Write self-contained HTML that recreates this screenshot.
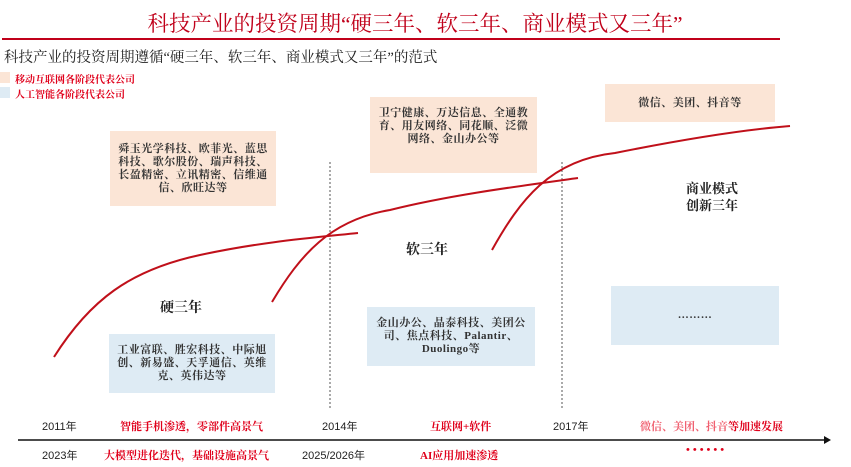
<!DOCTYPE html>
<html><head><meta charset="utf-8"><style>
body{margin:0;width:851px;height:467px;background:#fff;overflow:hidden;position:relative;font-family:"Liberation Serif","Noto Serif CJK SC",serif}
.a{position:absolute;white-space:nowrap}
.box{position:absolute;display:flex;align-items:center;justify-content:center;text-align:center;font-size:11px;line-height:13px;color:#333;font-weight:bold;letter-spacing:0.5px}
.pk{background:#fbe5d6}.bl{background:#deebf4}
.r{color:#e0001b;font-weight:bold;font-size:11px}
.k{color:#222;font-size:11px;font-family:"Liberation Sans","Noto Sans CJK SC",sans-serif}
</style></head><body>
<div class="a" style="left:0;width:830px;top:7px;text-align:center;font-size:21.5px;color:#c0001a">科技产业的投资周期“硬三年、软三年、商业模式又三年”</div>
<div class="a" style="left:2px;top:38px;width:778px;height:2px;background:#c0001a"></div>
<div class="a" style="left:4px;top:46px;font-size:14.5px;color:#222">科技产业的投资周期遵循“硬三年、软三年、商业模式又三年”的范式</div>
<div class="a pk" style="left:0;top:72px;width:10px;height:11px"></div>
<div class="a r" style="left:15px;top:71px;font-size:10px">移动互联网各阶段代表公司</div>
<div class="a bl" style="left:0;top:87px;width:10px;height:11px"></div>
<div class="a r" style="left:15px;top:86px;font-size:10px">人工智能各阶段代表公司</div>

<div class="box pk" style="left:110px;top:131px;width:166px;height:75px">舜玉光学科技、欧菲光、蓝思<br>科技、歌尔股份、瑞声科技、<br>长盈精密、立讯精密、信维通<br>信、欣旺达等</div>
<div class="box pk" style="left:370px;top:97px;width:167px;height:76px;align-items:flex-start;padding-top:10px;box-sizing:border-box">卫宁健康、万达信息、全通教<br>育、用友网络、同花顺、泛微<br>网络、金山办公等</div>
<div class="box pk" style="left:605px;top:84px;width:170px;height:38px">微信、美团、抖音等</div>
<div class="box bl" style="left:109px;top:334px;width:166px;height:59px">工业富联、胜宏科技、中际旭<br>创、新易盛、天孚通信、英维<br>克、英伟达等</div>
<div class="box bl" style="left:367px;top:307px;width:168px;height:59px">金山办公、晶泰科技、美团公<br>司、焦点科技、Palantir、<br>Duolingo等</div>
<div class="box bl" style="left:611px;top:286px;width:168px;height:59px">………</div>

<div class="a" style="left:160px;top:297px;font-size:14px;font-weight:bold;color:#222">硬三年</div>
<div class="a" style="left:406px;top:239px;font-size:14px;font-weight:bold;color:#222">软三年</div>
<div class="a" style="left:686px;top:180px;font-size:13px;font-weight:bold;color:#222;text-align:center;line-height:17px">商业模式<br>创新三年</div>

<svg class="a" style="left:0;top:0" width="851" height="467">
<line x1="330" y1="162" x2="330" y2="410" stroke="#555" stroke-dasharray="2,2" stroke-width="1"/>
<line x1="562" y1="162" x2="562" y2="410" stroke="#555" stroke-dasharray="2,2" stroke-width="1"/>
<g fill="none" stroke="#c0101a" stroke-width="2">
<path d="M54,357 C90,300 130,270 200,255 C260,242 310,238 358,233"/>
<path d="M272,302 C300,255 330,220 390,210 C450,195 520,186 578,178"/>
<path d="M492,250 C520,200 550,160 615,153 C680,140 740,130 790,126"/>
</g>
<line x1="18" y1="440" x2="826" y2="440" stroke="#111" stroke-width="1.5"/>
<path d="M824,436 L831,440 L824,444 Z" fill="#111"/>
</svg>

<div class="a k" style="left:42px;top:418px">2011年</div>
<div class="a r" style="left:120px;top:418px">智能手机渗透，零部件高景气</div>
<div class="a k" style="left:322px;top:418px">2014年</div>
<div class="a r" style="left:430px;top:418px">互联网+软件</div>
<div class="a k" style="left:553px;top:418px">2017年</div>
<div class="a r" style="left:640px;top:418px;color:#f06070">微信、美团、抖音<span style="color:#e0001b">等加速发展</span></div>
<div class="a k" style="left:42px;top:447px">2023年</div>
<div class="a r" style="left:104px;top:447px">大模型进化迭代，基础设施高景气</div>
<div class="a k" style="left:302px;top:447px">2025/2026年</div>
<div class="a r" style="left:420px;top:447px">AI应用加速渗透</div>
<div class="a r" style="left:686px;top:444px;letter-spacing:3px">••••••</div>
</body></html>
